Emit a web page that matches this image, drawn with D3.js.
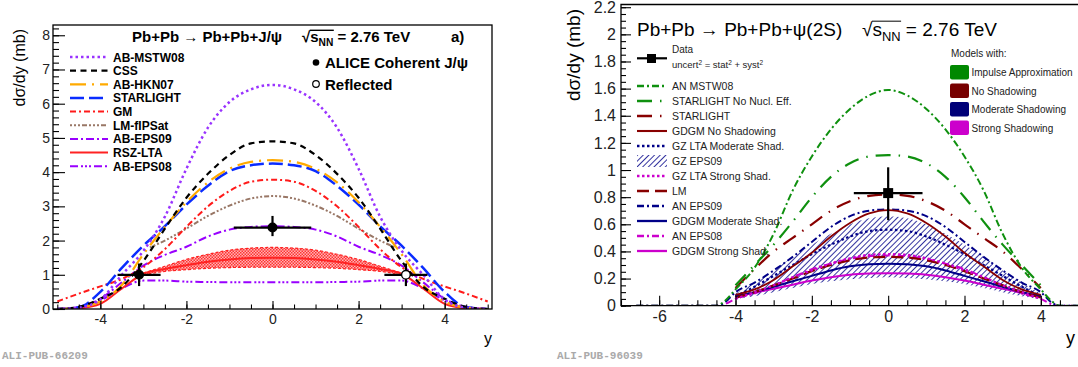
<!DOCTYPE html>
<html>
<head>
<meta charset="utf-8">
<script src="https://cdn.jsdelivr.net/npm/d3@7"></script>
<style>
  body { margin: 0; background: #fff; }
  svg { display: block; font-family: "Liberation Sans", Arial, Helvetica, sans-serif; }
</style>
</head>
<body>
<svg id="chart" width="1078" height="367"></svg>
<script>
// ---------- panel a) Pb+Pb -> Pb+Pb+J/psi ----------
const rapA = [-5, -4.5, -4, -3.5, -3, -2.5, -2, -1.5, -1, -0.5, 0, 0.5, 1, 1.5, 2, 2.5, 3, 3.5, 4, 4.5, 5];
const abMstw08 = [0, 0.04, 0.28, 1.0, 1.7, 2.7, 4.1, 5.3, 6.05, 6.42, 6.55, 6.42, 6.05, 5.3, 4.1, 2.7, 1.7, 1.0, 0.28, 0.04, 0];
const css = [0, 0.06, 0.3, 0.65, 1.4, 2.35, 3.25, 3.95, 4.5, 4.84, 4.9, 4.84, 4.5, 3.95, 3.25, 2.35, 1.4, 0.65, 0.3, 0.06, 0];
const abHkn07 = [0, 0.04, 0.22, 0.7, 1.6, 2.4, 3.12, 3.7, 4.1, 4.3, 4.35, 4.3, 4.1, 3.7, 3.12, 2.4, 1.6, 0.7, 0.22, 0.04, 0];
const starlightA = [0, 0.05, 0.5, 1.2, 1.85, 2.42, 3.05, 3.6, 4.03, 4.2, 4.25, 4.2, 4.03, 3.6, 3.05, 2.42, 1.85, 1.2, 0.5, 0.05, 0];
const gm = [0.22, 0.45, 0.66, 0.88, 1.22, 1.75, 2.4, 3.0, 3.45, 3.72, 3.78, 3.72, 3.45, 3.0, 2.4, 1.75, 1.22, 0.88, 0.66, 0.45, 0.22];
const abEps09 = [0, 0.06, 0.3, 0.78, 1.27, 1.58, 1.82, 2.12, 2.32, 2.4, 2.42, 2.4, 2.32, 2.12, 1.82, 1.58, 1.27, 0.78, 0.3, 0.06, 0];
const abEps08 = [0, 0.04, 0.25, 0.6, 0.83, 0.83, 0.8, 0.79, 0.78, 0.78, 0.78, 0.78, 0.78, 0.79, 0.8, 0.83, 0.83, 0.6, 0.25, 0.04, 0];
const rszLta = [0, 0.02, 0.15, 0.6, 1.03, 1.17, 1.28, 1.38, 1.45, 1.49, 1.5, 1.49, 1.45, 1.38, 1.28, 1.17, 1.03, 0.6, 0.15, 0.02, 0];

const lmRap = [-2.85, -2.5, -2, -1.5, -1, -0.5, 0, 0.5, 1, 1.5, 2, 2.5, 2.85];
const lmFipsat = [1.8, 2.0, 2.35, 2.72, 3.02, 3.23, 3.3, 3.23, 3.02, 2.72, 2.35, 2.0, 1.8];

const rszRap = [-3, -2.5, -2, -1.5, -1, -0.5, 0, 0.5, 1, 1.5, 2, 2.5, 3];
const rszHigh = [1.05, 1.25, 1.45, 1.6, 1.72, 1.78, 1.8, 1.78, 1.72, 1.6, 1.45, 1.25, 1.05];
const rszLow = [1.0, 1.1, 1.15, 1.19, 1.21, 1.22, 1.22, 1.22, 1.21, 1.19, 1.15, 1.1, 1.0];

// ALICE points
const aliceRap = [-3.1, 0];
const aliceVal = [1.0, 2.38];
const aliceXErr = [0.5, 0.9];
const aliceUp = [0.33, 0.34];
const aliceDown = [0.33, 0.25];
const reflectedRap = [3.1];
const reflectedVal = [1.0];
const reflectedXErr = [0.5];
const reflectedUp = [0.33];
const reflectedDown = [0.33];

const legendA = ['AB-MSTW08', 'CSS', 'AB-HKN07', 'STARLIGHT', 'GM', 'LM-fIPSat', 'AB-EPS09', 'RSZ-LTA', 'AB-EPS08'];
const yTicksA = [0, 1, 2, 3, 4, 5, 6, 7, 8];
const xTicksA = [-4, -2, 0, 2, 4];

// ---------- panel b) Pb+Pb -> Pb+Pb+psi(2S) ----------
const rapAN = [-6.6, -5, -4.5, -4.3, -4, -3.5, -3, -2.5, -2, -1.5, -1, -0.5, 0, 0.5, 1, 1.5, 2, 2.5, 3, 3.5, 4, 4.3, 4.5, 5];
const anMstw08 = [0, 0, 0, 0.03, 0.12, 0.28, 0.53, 0.85, 1.1, 1.3, 1.45, 1.55, 1.59, 1.55, 1.45, 1.3, 1.1, 0.85, 0.53, 0.28, 0.12, 0.03, 0, 0];
const anEps09 = [0, 0, 0, 0.02, 0.1, 0.17, 0.26, 0.36, 0.47, 0.58, 0.66, 0.7, 0.71, 0.7, 0.66, 0.58, 0.47, 0.36, 0.26, 0.17, 0.1, 0.02, 0, 0];
const anEps08 = [0, 0, 0, 0.01, 0.05, 0.09, 0.15, 0.21, 0.27, 0.31, 0.345, 0.365, 0.37, 0.365, 0.345, 0.31, 0.27, 0.21, 0.15, 0.09, 0.05, 0.01, 0, 0];

const rapB = [-4, -3.5, -3, -2.5, -2, -1.5, -1, -0.5, 0, 0.5, 1, 1.5, 2, 2.5, 3, 3.5, 4];
const starlightNoNucl = [0.15, 0.3, 0.45, 0.62, 0.8, 0.95, 1.05, 1.1, 1.11, 1.1, 1.05, 0.95, 0.8, 0.62, 0.45, 0.3, 0.15];
const starlightB = [0.13, 0.27, 0.4, 0.5, 0.6, 0.7, 0.77, 0.81, 0.82, 0.81, 0.77, 0.7, 0.6, 0.5, 0.4, 0.27, 0.13];
const gdgmNoShad = [0.08, 0.12, 0.19, 0.29, 0.39, 0.51, 0.61, 0.68, 0.705, 0.68, 0.61, 0.51, 0.39, 0.29, 0.19, 0.12, 0.08];
const gzLtaMod = [0.07, 0.14, 0.22, 0.3, 0.38, 0.45, 0.51, 0.55, 0.56, 0.55, 0.51, 0.45, 0.38, 0.3, 0.22, 0.14, 0.07];
const gzEps09Hi = [0.09, 0.17, 0.26, 0.36, 0.45, 0.53, 0.6, 0.645, 0.66, 0.645, 0.6, 0.53, 0.45, 0.36, 0.26, 0.17, 0.09];
const gzEps09Lo = [0.05, 0.07, 0.1, 0.13, 0.16, 0.18, 0.195, 0.205, 0.21, 0.205, 0.195, 0.18, 0.16, 0.13, 0.1, 0.07, 0.05];
const gzLtaStrong = [0.05, 0.1, 0.15, 0.21, 0.26, 0.31, 0.35, 0.375, 0.38, 0.375, 0.35, 0.31, 0.26, 0.21, 0.15, 0.1, 0.05];
const lmB = [0.06, 0.1, 0.15, 0.2, 0.255, 0.3, 0.335, 0.355, 0.36, 0.355, 0.335, 0.3, 0.255, 0.2, 0.15, 0.1, 0.06];
const gdgmMod = [0.07, 0.1, 0.14, 0.18, 0.22, 0.26, 0.29, 0.305, 0.31, 0.305, 0.29, 0.26, 0.22, 0.18, 0.14, 0.1, 0.07];
const gdgmStrong = [0.07, 0.095, 0.125, 0.155, 0.185, 0.21, 0.228, 0.237, 0.24, 0.237, 0.228, 0.21, 0.185, 0.155, 0.125, 0.095, 0.07];

const psiRap = [0];
const psiVal = [0.83];
const psiXErr = [0.9];
const psiUp = [0.19];
const psiDown = [0.2];

const legendB = ['AN MSTW08', 'STARLIGHT No Nucl. Eff.', 'STARLIGHT', 'GDGM No Shadowing', 'GZ LTA Moderate Shad.',
  'GZ EPS09', 'GZ LTA Strong Shad.', 'LM', 'AN EPS09', 'GDGM Moderate Shad.', 'AN EPS08', 'GDGM Strong Shad.'];
const modelGroups = ['Impulse Approximation', 'No Shadowing', 'Moderate Shadowing', 'Strong Shadowing'];
const yTicksB = [0, 0.2, 0.4, 0.6, 0.8, 1, 1.2, 1.4, 1.6, 1.8, 2, 2.2];
const xTicksB = [-6, -4, -2, 0, 2, 4];

// ---------- styles ----------
const styleA = {
  'AB-MSTW08': { color: '#9933ff', dash: '2.5,3', width: 2.5 },
  'CSS': { color: '#000000', dash: '6,4.5', width: 2.2 },
  'AB-HKN07': { color: '#ffaa00', dash: '16,6,2,6', width: 2.2 },
  'STARLIGHT': { color: '#0a2cff', dash: '14,5', width: 2.5 },
  'GM': { color: '#ff1a1a', dash: '6,3,2,3', width: 2 },
  'LM-fIPSat': { color: '#997766', dash: '2,2,2,2,2,2,5,2', width: 2 },
  'AB-EPS09': { color: '#9900ff', dash: '8,3,2,3', width: 2 },
  'RSZ-LTA': { color: '#ff2222', dash: null, width: 2 },
  'AB-EPS08': { color: '#9900ff', dash: '8,3,2,2,2,2,2,3', width: 2 }
};
const green = '#0f900f', dred = '#880000', navy = '#000088', mag = '#cc00cc';
const styleB = {
  'AN MSTW08': { color: green, dash: '7,3,2,3', width: 2 },
  'STARLIGHT No Nucl. Eff.': { color: green, dash: '15,8,1.5,8', width: 2.2 },
  'STARLIGHT': { color: dred, dash: '15,8,1.5,8', width: 2.2 },
  'GDGM No Shadowing': { color: dred, dash: null, width: 1.8 },
  'GZ LTA Moderate Shad.': { color: navy, dash: '2.5,2.5', width: 2.2 },
  'GZ EPS09': { color: navy, hatch: true },
  'GZ LTA Strong Shad.': { color: mag, dash: '2.5,2.5', width: 2.2 },
  'LM': { color: dred, dash: '12,6', width: 2.2 },
  'AN EPS09': { color: navy, dash: '7,3,2,3', width: 2 },
  'GDGM Moderate Shad.': { color: navy, dash: null, width: 2 },
  'AN EPS08': { color: mag, dash: '7,3,2,3', width: 2 },
  'GDGM Strong Shad.': { color: mag, dash: null, width: 2 }
};
const groupColors = ['#008800', '#770000', '#000077', '#cc00cc'];

const svg = d3.select('#chart');
const defs = svg.append('defs');

// hatch for GZ EPS09 band
const hatch = defs.append('pattern').attr('id', 'hatchNavy').attr('patternUnits', 'userSpaceOnUse')
  .attr('width', 4).attr('height', 4).attr('patternTransform', 'rotate(45)');
hatch.append('line').attr('x1', 0).attr('y1', 0).attr('x2', 0).attr('y2', 4)
  .attr('stroke', navy).attr('stroke-width', 1.6);
// checker for RSZ-LTA band
const check = defs.append('pattern').attr('id', 'checkRed').attr('patternUnits', 'userSpaceOnUse')
  .attr('width', 3).attr('height', 3);
check.append('rect').attr('width', 3).attr('height', 3).attr('fill', '#ffb3b3');
check.append('rect').attr('width', 1.5).attr('height', 1.5).attr('fill', '#ff3333');
check.append('rect').attr('x', 1.5).attr('y', 1.5).attr('width', 1.5).attr('height', 1.5).attr('fill', '#ff3333');

function zip(xs, ys) { return xs.map((v, i) => [v, ys[i]]); }

function drawLine(g, x, y, xs, ys, st) {
  g.append('path')
    .datum(zip(xs, ys))
    .attr('fill', 'none')
    .attr('stroke', st.color)
    .attr('stroke-width', st.width)
    .attr('stroke-dasharray', st.dash)
    .attr('d', d3.line().x(d => x(d[0])).y(d => y(d[1])).curve(d3.curveMonotoneX));
}

function drawAxes(g, x, y, o) {
  const xMinor = d3.range(Math.ceil(o.xDom[0] / o.xMinorStep) * o.xMinorStep, o.xDom[1] + 1e-6, o.xMinorStep);
  const yMinor = d3.range(0, o.yDom[1] + 1e-6, o.yMinorStep);
  const bottom = y(0);
  const left = x.range()[0];

  g.append('g').attr('transform', `translate(0,${bottom})`)
    .call(d3.axisBottom(x).tickValues(xMinor).tickSize(-o.xMinorLen).tickFormat(''))
    .call(s => s.select('.domain').remove());
  g.append('g').attr('transform', `translate(0,${bottom})`)
    .call(d3.axisBottom(x).tickValues(o.xTicks).tickSize(-o.xMajorLen).tickPadding(o.xPad).tickFormat(d => String(d)))
    .call(s => s.select('.domain').remove())
    .call(s => s.selectAll('text').style('font-size', o.font + 'px').attr('fill', '#222').style('font-family', 'inherit'));

  g.append('g').attr('transform', `translate(${left},0)`)
    .call(d3.axisLeft(y).tickValues(yMinor).tickSize(-o.yMinorLen).tickFormat(''))
    .call(s => s.select('.domain').remove());
  g.append('g').attr('transform', `translate(${left},0)`)
    .call(d3.axisLeft(y).tickValues(o.yTicks).tickSize(-o.yMajorLen).tickPadding(o.yPad).tickFormat(o.yFmt))
    .call(s => s.select('.domain').remove())
    .call(s => s.selectAll('text').style('font-size', o.font + 'px').attr('fill', '#222').style('font-family', 'inherit'));

  g.selectAll('.tick line').attr('stroke', '#000').attr('stroke-width', 1.1);
}

function sqrtS(g, x, yBase, size, weight, tail) {
  const t = g.append('text').attr('x', x).attr('y', yBase)
    .style('font-size', size + 'px').style('font-weight', weight).attr('fill', '#000');
  t.append('tspan').text('√');
  t.append('tspan').text('s');
  t.append('tspan').attr('dy', size * 0.28).style('font-size', (size * 0.68) + 'px').text('NN');
  t.append('tspan').attr('dy', -size * 0.28).text(' ' + tail);
  const node = t.node();
  const x1 = node.getStartPositionOfChar(1).x;
  const x2 = node.getEndPositionOfChar(3).x;
  const yl = yBase - size * 0.78;
  g.append('line').attr('x1', x1 - 0.5).attr('x2', x2 + 0.5).attr('y1', yl).attr('y2', yl)
    .attr('stroke', '#000').attr('stroke-width', size > 16 ? 1 : 1.4);
}

function errorPoints(g, x, y, rs, vs, xe, up, dn, filled, square) {
  rs.forEach((r, i) => {
    const gg = g.append('g');
    gg.append('line').attr('x1', x(r - xe[i])).attr('x2', x(r + xe[i])).attr('y1', y(vs[i])).attr('y2', y(vs[i]))
      .attr('stroke', '#000').attr('stroke-width', 2.2);
    gg.append('line').attr('x1', x(r)).attr('x2', x(r)).attr('y1', y(vs[i] + up[i])).attr('y2', y(vs[i] - dn[i]))
      .attr('stroke', '#000').attr('stroke-width', 2.2);
    if (square) {
      gg.append('rect').attr('x', x(r) - 5).attr('y', y(vs[i]) - 5).attr('width', 10).attr('height', 10).attr('fill', '#000');
    } else {
      gg.append('circle').attr('cx', x(r)).attr('cy', y(vs[i])).attr('r', 4.3)
        .attr('fill', filled ? '#000' : '#fff').attr('stroke', '#000').attr('stroke-width', 1.3);
    }
  });
}

// ================= panel a =================
const xA = d3.scaleLinear().domain([-5.1, 5.1]).range([53, 492]);
const yA = d3.scaleLinear().domain([0, 8.3]).range([309, 25]);
const gA = svg.append('g');
defs.append('clipPath').attr('id', 'clipA').append('rect')
  .attr('x', 53).attr('y', 25).attr('width', 439).attr('height', 284);
const plotA = gA.append('g').attr('clip-path', 'url(#clipA)');

// RSZ-LTA band
plotA.append('path').datum(rszRap.map((r, i) => [r, rszLow[i], rszHigh[i]]))
  .attr('fill', 'url(#checkRed)').attr('stroke', 'none')
  .attr('d', d3.area().x(d => xA(d[0])).y0(d => yA(d[1])).y1(d => yA(d[2])).curve(d3.curveMonotoneX));
drawLine(plotA, xA, yA, rszRap, rszHigh, { color: '#ff2222', dash: '3,2', width: 1.2 });
drawLine(plotA, xA, yA, rszRap, rszLow, { color: '#ff2222', dash: '3,2', width: 1.2 });

const seriesA = {
  'AB-EPS08': [rapA, abEps08], 'RSZ-LTA': [rapA, rszLta], 'AB-EPS09': [rapA, abEps09],
  'LM-fIPSat': [lmRap, lmFipsat], 'GM': [rapA, gm], 'STARLIGHT': [rapA, starlightA],
  'AB-HKN07': [rapA, abHkn07], 'CSS': [rapA, css], 'AB-MSTW08': [rapA, abMstw08]
};
Object.keys(seriesA).forEach(k => drawLine(plotA, xA, yA, seriesA[k][0], seriesA[k][1], styleA[k]));

errorPoints(gA, xA, yA, aliceRap, aliceVal, aliceXErr, aliceUp, aliceDown, true, false);
errorPoints(gA, xA, yA, reflectedRap, reflectedVal, reflectedXErr, reflectedUp, reflectedDown, false, false);

drawAxes(gA, xA, yA, {
  xDom: [-5.1, 5.1], yDom: [0, 8.3], xMinorStep: 0.5, yMinorStep: 0.2,
  xTicks: xTicksA, yTicks: yTicksA, xMajorLen: 8, xMinorLen: 4.5, yMajorLen: 12, yMinorLen: 6,
  xPad: 5, yPad: 3, font: 14, yFmt: d => String(d)
});
gA.append('rect').attr('x', 53).attr('y', 25).attr('width', 439).attr('height', 284)
  .attr('fill', 'none').attr('stroke', '#000').attr('stroke-width', 1.3);

// titles
gA.append('text').attr('x', 132).attr('y', 42).style('font-size', '15px').style('font-weight', 'bold')
  .text('Pb+Pb → Pb+Pb+J/ψ');
sqrtS(gA, 302, 42, 15, 'bold', '= 2.76 TeV');
gA.append('text').attr('x', 451).attr('y', 42).style('font-size', '15px').style('font-weight', 'bold').text('a)');

gA.append('circle').attr('cx', 316).attr('cy', 62.5).attr('r', 3.3).attr('fill', '#000');
gA.append('text').attr('x', 325).attr('y', 68).style('font-size', '15px').style('font-weight', 'bold').text('ALICE Coherent J/ψ');
gA.append('circle').attr('cx', 316).attr('cy', 84).attr('r', 3.3).attr('fill', '#fff').attr('stroke', '#000').attr('stroke-width', 1.2);
gA.append('text').attr('x', 325).attr('y', 90).style('font-size', '15px').style('font-weight', 'bold').text('Reflected');

// legend a
legendA.forEach((name, i) => {
  const base = 61.5 + i * 13.65;
  const st = styleA[name];
  gA.append('line').attr('x1', 70).attr('x2', 108).attr('y1', base - 4.5).attr('y2', base - 4.5)
    .attr('stroke', st.color).attr('stroke-width', st.width).attr('stroke-dasharray', st.dash);
  gA.append('text').attr('x', 113).attr('y', base).style('font-size', '12px').style('font-weight', 'bold').text(name);
});

gA.append('text').attr('transform', 'translate(25,29) rotate(-90)').attr('text-anchor', 'end')
  .style('font-size', '16px').text('dσ/dy (mb)');
gA.append('text').attr('x', 492).attr('y', 344).attr('text-anchor', 'end').style('font-size', '16px').text('y');
gA.append('text').attr('x', 2).attr('y', 359).style('font-family', '"Liberation Mono", monospace')
  .style('font-size', '11px').style('font-weight', 'bold').attr('fill', '#aaaaaa').text('ALI-PUB-66209');

// ================= panel b =================
const xB = d3.scaleLinear().domain([-7, 5]).range([621, 1079]);
const yB = d3.scaleLinear().domain([0, 2.22]).range([305.7, 4.5]);
const gB = svg.append('g');
defs.append('clipPath').attr('id', 'clipB').append('rect')
  .attr('x', 621).attr('y', 4.5).attr('width', 458).attr('height', 301.2);
const plotB = gB.append('g').attr('clip-path', 'url(#clipB)');

plotB.append('path').datum(rapB.map((r, i) => [r, gzEps09Lo[i], gzEps09Hi[i]]))
  .attr('fill', 'url(#hatchNavy)').attr('stroke', 'none')
  .attr('d', d3.area().x(d => xB(d[0])).y0(d => yB(d[1])).y1(d => yB(d[2])).curve(d3.curveMonotoneX));

const seriesB = {
  'GDGM Strong Shad.': [rapB, gdgmStrong], 'AN EPS08': [rapAN, anEps08], 'GDGM Moderate Shad.': [rapB, gdgmMod],
  'LM': [rapB, lmB], 'GZ LTA Strong Shad.': [rapB, gzLtaStrong], 'GZ LTA Moderate Shad.': [rapB, gzLtaMod],
  'AN EPS09': [rapAN, anEps09], 'GDGM No Shadowing': [rapB, gdgmNoShad], 'STARLIGHT': [rapB, starlightB],
  'STARLIGHT No Nucl. Eff.': [rapB, starlightNoNucl], 'AN MSTW08': [rapAN, anMstw08]
};
Object.keys(seriesB).forEach(k => drawLine(plotB, xB, yB, seriesB[k][0], seriesB[k][1], styleB[k]));

errorPoints(gB, xB, yB, psiRap, psiVal, psiXErr, psiUp, psiDown, true, true);

drawAxes(gB, xB, yB, {
  xDom: [-7, 5], yDom: [0, 2.22], xMinorStep: 0.5, yMinorStep: 0.05,
  xTicks: xTicksB, yTicks: yTicksB, xMajorLen: 10, xMinorLen: 5.5, yMajorLen: 10, yMinorLen: 5,
  xPad: 5, yPad: 5, font: 16, yFmt: d => (Math.round(d * 10) / 10).toString()
});
gB.append('path').attr('d', 'M1079,4.5H621V305.7H1079').attr('fill', 'none').attr('stroke', '#000').attr('stroke-width', 1.3);

gB.append('text').attr('x', 637).attr('y', 36).style('font-size', '19px').text('Pb+Pb → Pb+Pb+ψ(2S)');
sqrtS(gB, 862, 36, 19, 'normal', '= 2.76 TeV');

// data legend entry
gB.append('line').attr('x1', 637).attr('x2', 667).attr('y1', 58.3).attr('y2', 58.3).attr('stroke', '#000').attr('stroke-width', 2.2);
gB.append('rect').attr('x', 647).attr('y', 54).attr('width', 9).attr('height', 9).attr('fill', '#000');
gB.append('text').attr('x', 672).attr('y', 53).style('font-size', '10px').attr('fill', '#222').text('Data');
const unc = gB.append('text').attr('x', 672).attr('y', 68).style('font-size', '9.5px').attr('fill', '#222');
[['uncert', 0], ['2', 1], [' = stat', 0], ['2', 1], [' + syst', 0], ['2', 1]].forEach(([s, sup], i) => {
  const ts = unc.append('tspan').text(s);
  if (sup) ts.attr('dy', -3.5).style('font-size', '6.5px');
  else if (i > 0) ts.attr('dy', 3.5);
});

legendB.forEach((name, i) => {
  const base = 90 + i * 15;
  const st = styleB[name];
  if (st.hatch) {
    gB.append('rect').attr('x', 637).attr('y', base - 10).attr('width', 30).attr('height', 12)
      .attr('fill', 'url(#hatchNavy)');
  } else {
    gB.append('line').attr('x1', 637).attr('x2', 667).attr('y1', base - 4).attr('y2', base - 4)
      .attr('stroke', st.color).attr('stroke-width', st.width + 0.3).attr('stroke-dasharray', st.dash);
  }
  gB.append('text').attr('x', 672).attr('y', base).style('font-size', '10.5px').attr('fill', '#222').text(name);
});

gB.append('text').attr('x', 951).attr('y', 57).style('font-size', '10px').attr('fill', '#222').text('Models with:');
modelGroups.forEach((name, i) => {
  const top = 65 + i * 18.5;
  gB.append('rect').attr('x', 950).attr('y', top).attr('width', 19).attr('height', 14.5).attr('rx', 2)
    .attr('fill', groupColors[i]);
  gB.append('text').attr('x', 971.5).attr('y', top + 11).style('font-size', '10px').attr('fill', '#222').text(name);
});

gB.append('text').attr('transform', 'translate(580,9) rotate(-90)').attr('text-anchor', 'end')
  .style('font-size', '19px').text('dσ/dy (mb)');
gB.append('text').attr('x', 1066).attr('y', 344).style('font-size', '18px').text('y');
gB.append('text').attr('x', 557).attr('y', 359).style('font-family', '"Liberation Mono", monospace')
  .style('font-size', '11px').style('font-weight', 'bold').attr('fill', '#aaaaaa').text('ALI-PUB-96039');
</script>
</body>
</html>
